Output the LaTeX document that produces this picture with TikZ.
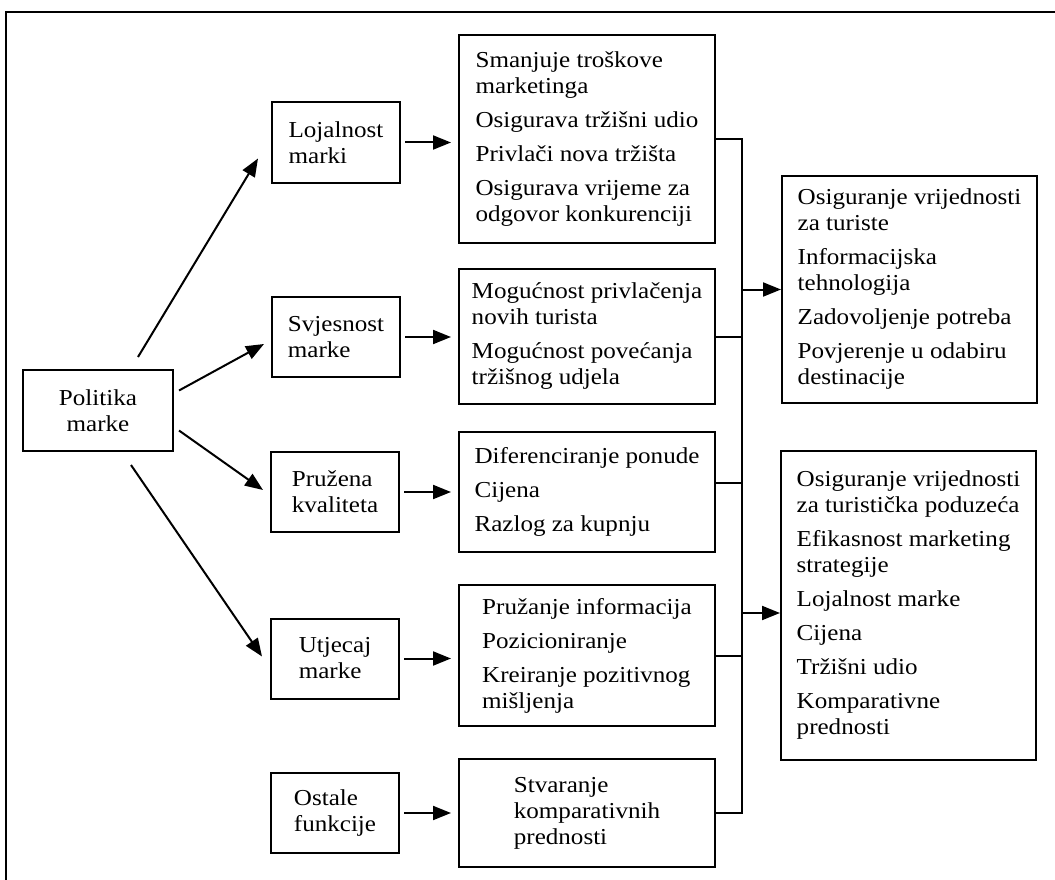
\documentclass[tikz,border=0pt]{standalone}
\usepackage{fontspec}
\setmainfont[FakeStretch=1.1]{Liberation Serif}
\usetikzlibrary{positioning, arrows.meta}

\begin{document}
\begin{tikzpicture}[
    x=1pt, y=-1pt,
    box/.style={draw, rectangle, line width=2pt, inner sep=0pt, align=left, font=\fontsize{22.8}{26}\selectfont},
    fun/.style={box, minimum width=128pt, minimum height=80pt},
    eff/.style={box, minimum width=256pt},
    res/.style={box, minimum width=255pt},
    lin/.style={line width=2pt},
    arr/.style={-{Triangle[length=18pt,width=14pt]}, line width=2pt}
]
    \useasboundingbox (0,0) rectangle (1055,880);
    \draw[lin] (1055,12) -- (6,12) -- (6,880);

    \node[box, align=center, minimum width=150pt, minimum height=81pt] (pol) at (98,410.5) {Politika\\marke};

    % funkcije marke
    \node[fun] (loj) at (336,142.5) {Lojalnost\\marki};
    \node[fun] (svj) at (336,337) {Svjesnost\\marke};
    \node[fun] (pru) at (335,492) {Pružena\\kvaliteta};
    \node[fun] (utj) at (335,658.5) {Utjecaj\\marke};
    \node[fun] (ost) at (335,813) {Ostale\\funkcije};

    % ucinci
    \node[eff, minimum height=208pt] (b1) at (587,139) {Smanjuje troškove\\marketinga\\[8pt]Osigurava tržišni udio\\[8pt]Privlači nova tržišta\\[8pt]Osigurava vrijeme za\\odgovor konkurenciji};
    \node[eff, minimum height=135pt] (b2) at (587,336.5) {Mogućnost privlačenja\\novih turista\\[8pt]Mogućnost povećanja\\tržišnog udjela};
    \node[eff, minimum height=120pt] (b3) at (587,492) {Diferenciranje ponude\\[8pt]Cijena\\[8pt]Razlog za kupnju};
    \node[eff, minimum height=141pt] (b4) at (587,655.5) {Pružanje informacija\\[8pt]Pozicioniranje\\[8pt]Kreiranje pozitivnog\\mišljenja};
    \node[eff, minimum height=108pt] (b5) at (587,813) {Stvaranje\\komparativnih\\prednosti};

    % rezultati
    \node[res, minimum height=227pt] (r1) at (909.5,289.5) {Osiguranje vrijednosti\\za turiste\\[8pt]Informacijska\\tehnologija\\[8pt]Zadovoljenje potreba\\[8pt]Povjerenje u odabiru\\destinacije};
    \node[res, minimum height=309pt] (r2) at (908.5,605.5) {Osiguranje vrijednosti\\za turistička poduzeća\\[8pt]Efikasnost marketing\\strategije\\[8pt]Lojalnost marke\\[8pt]Cijena\\[8pt]Tržišni udio\\[8pt]Komparativne\\prednosti};

    \draw[arr] ([shift={(40,-12)}]pol.north) -- ([shift={(-13,-25)}]loj.south west);
    \draw[arr] ([shift={(5,-20)}]pol.east) -- ([shift={(-7,7)}]svj.west);
    \draw[arr] ([shift={(5,20)}]pol.east) -- ([shift={(-7,-2)}]pru.west);
    \draw[arr] ([shift={(33,13)}]pol.south) -- ([shift={(-8,-2)}]utj.west);

    \foreach \f/\b in {loj/b1, svj/b2, pru/b3, utj/b4, ost/b5}
        \draw[arr, shorten <=4pt, shorten >=7pt] (\f.east) -- (\f.east -| \b.west);

    \coordinate (bus) at (742,0);
    \draw[lin] (b1.east) -- (b1.east -| bus) -- (b5.east -| bus) -- (b5.east);
    \draw[lin] (b2.east) -- (b2.east -| bus);
    \draw[lin] ([yshift=9pt]b3.east) -- ([yshift=9pt]b3.east -| bus);
    \draw[lin] (b4.east) -- (b4.east -| bus);

    \draw[arr] (r1.west -| bus) -- (r1.west);
    \draw[arr] ([yshift=-7.5pt]r2.west -| bus) -- ([yshift=-7.5pt]r2.west);
\end{tikzpicture}
\end{document}
